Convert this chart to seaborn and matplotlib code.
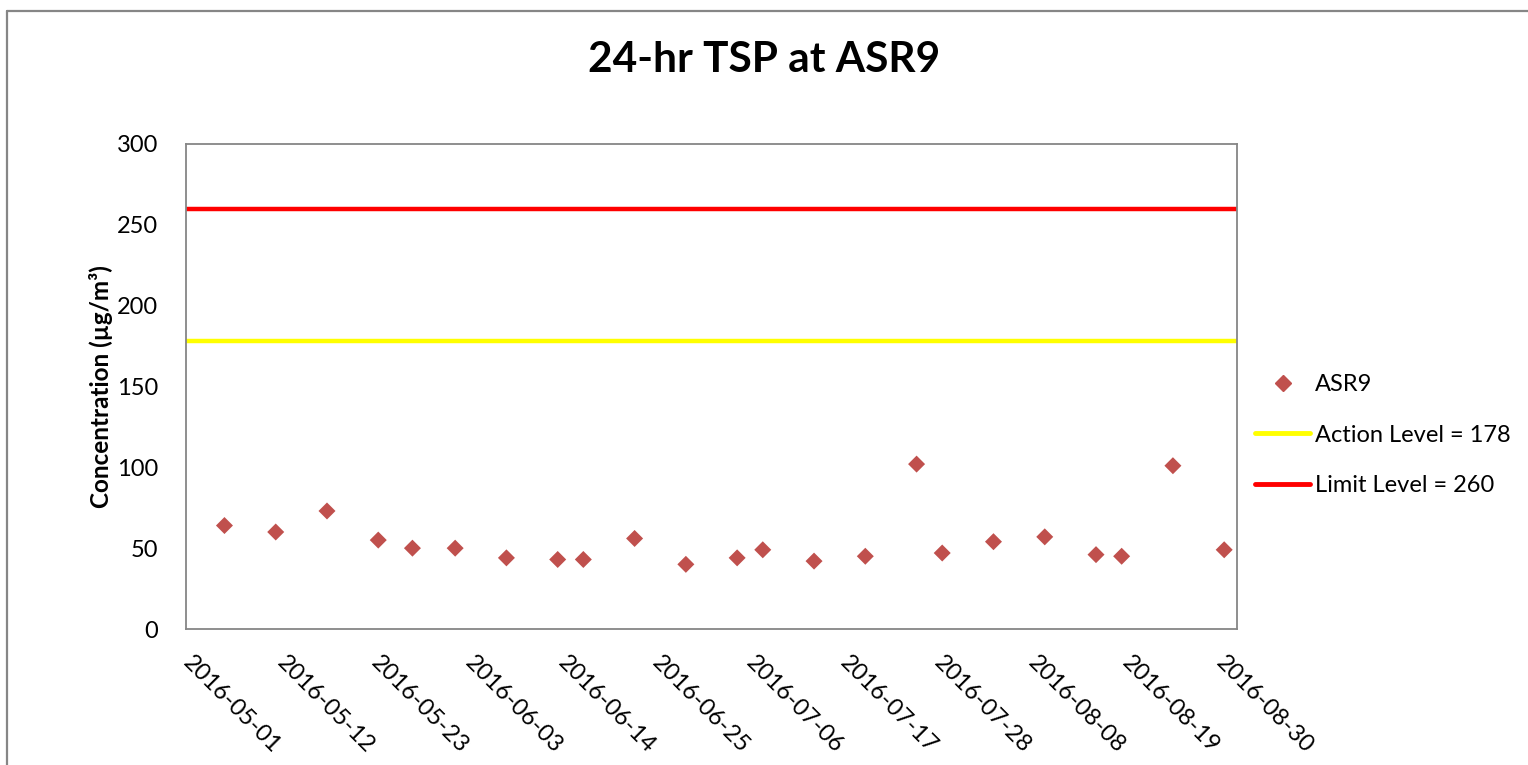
import numpy as np
import pandas as pd
import matplotlib
matplotlib.use("Agg")
import matplotlib.pyplot as plt
import matplotlib.dates as mdates
from matplotlib.lines import Line2D
import seaborn as sns

# sampling dates and 24-hr TSP readings at ASR9
dates = ['2016-05-05', '2016-05-11', '2016-05-17', '2016-05-23', '2016-05-27',
         '2016-06-01', '2016-06-07', '2016-06-13', '2016-06-16', '2016-06-22',
         '2016-06-28', '2016-07-04', '2016-07-07', '2016-07-13', '2016-07-19',
         '2016-07-25', '2016-07-28', '2016-08-03', '2016-08-09', '2016-08-15',
         '2016-08-18', '2016-08-24', '2016-08-30']
tsp = [64, 60, 73, 55, 50, 50, 44, 43, 43, 56, 40, 44, 49, 42, 45, 102, 47,
       54, 57, 46, 45, 101, 49]

action_level = 178
limit_level = 260
tick_dates = pd.date_range('2016-05-01', '2016-08-30', freq='11D')

df = pd.DataFrame({'date': pd.to_datetime(dates), 'tsp': tsp})
# excel date axis puts each point in the middle of its day
df['date'] = df['date'] + pd.Timedelta(hours=12)

sns.set_style("white")
plt.rcParams['font.family'] = ['Lato', 'DejaVu Sans']
plt.rcParams['text.color'] = 'black'
plt.rcParams['axes.labelcolor'] = 'black'

fig = plt.figure(figsize=(15.28, 7.65), dpi=100)
ax = fig.add_axes([186/1528, 1-629/765, (1237-186)/1528, (629-144)/765])

ax.axhline(limit_level, color='#FF0000', lw=3.2, zorder=2)
ax.axhline(action_level, color='#FFFF00', lw=3.2, zorder=2)
sns.scatterplot(data=df, x='date', y='tsp', marker='D', s=75, color='#C0504D',
                edgecolor='none', ax=ax, zorder=3, legend=False)

ax.set_xlim(pd.Timestamp('2016-05-01'), pd.Timestamp('2016-09-01'))
ax.set_ylim(0, 300)
ax.set_yticks(np.arange(0, 301, 50))
ax.set_xticks(tick_dates)
ax.xaxis.set_major_formatter(mdates.DateFormatter('%Y-%m-%d'))
for lab in ax.get_xticklabels():
    lab.set_rotation(-45)
    lab.set_rotation_mode('anchor')
    lab.set_ha('left')
    lab.set_va('center')
ax.tick_params(axis='both', length=0, labelsize=17, colors='black')
ax.tick_params(axis='x', pad=22)
ax.tick_params(axis='y', pad=20)
for s in ax.spines.values():
    s.set_color('#868686')
    s.set_linewidth(1.3)

ax.set_xlabel('')
ax.set_ylabel('Concentration (µg/m³)', fontsize=17.5, fontweight='bold', labelpad=3)

fig.text(0.5, 1-60/765, '24-hr TSP at ASR9', ha='center', va='center',
         fontsize=30.5, fontweight='bold')

handles = [
    Line2D([], [], marker='D', color='#C0504D', ls='none', markersize=8.5),
    Line2D([], [], color='#FFFF00', lw=3.5),
    Line2D([], [], color='#FF0000', lw=3.5),
]
labels = ['ASR9', 'Action Level = ' + str(action_level),
          'Limit Level = ' + str(limit_level)]
fig.legend(handles, labels, loc='center left', bbox_to_anchor=(1255/1528, 1-435/765),
           frameon=False, fontsize=17, handlelength=2.35, handletextpad=0.2,
           labelspacing=1.25, borderaxespad=0, borderpad=0)

# chart area border (cropped at the right and bottom)
fig.add_artist(Line2D([7/1528, 1], [1-11/765, 1-11/765], color='#868686', lw=1.6))
fig.add_artist(Line2D([7/1528, 7/1528], [0, 1-11/765], color='#868686', lw=1.6))

fig.savefig('out.png', dpi=100)
